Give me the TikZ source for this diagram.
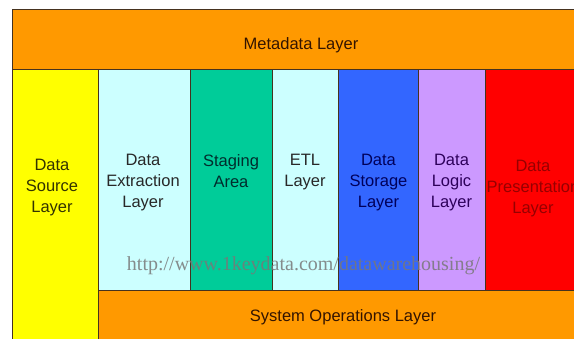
\documentclass[tikz,border=0pt]{standalone}
\usepackage{fontspec}
\setmainfont{Liberation Sans}
\newfontfamily\urlfont{Liberation Serif}
\definecolor{orng}{RGB}{255,153,0}
\definecolor{ylw}{RGB}{255,255,0}
\definecolor{lcyan}{RGB}{204,255,255}
\definecolor{grn}{RGB}{0,204,153}
\definecolor{blu}{RGB}{51,102,255}
\definecolor{purp}{RGB}{204,153,255}
\definecolor{rd}{RGB}{255,0,0}
\definecolor{edge}{RGB}{70,50,30}
\definecolor{tbrown}{RGB}{51,20,0}
\definecolor{tolive}{RGB}{51,51,0}
\definecolor{tgray}{RGB}{40,40,40}
\definecolor{tteal}{RGB}{0,45,45}
\definecolor{tnavy}{RGB}{0,0,90}
\definecolor{tpurp}{RGB}{45,0,90}
\definecolor{tred}{RGB}{150,0,0}
\definecolor{urlgray}{RGB}{120,120,120}
\begin{document}
\begin{tikzpicture}[x=1pt,y=-1pt,
  box/.style={draw=edge, line width=0.8pt, inner sep=0pt, outer sep=0pt, anchor=north west},
  lbl/.style={font=\fontsize{16.5}{21}\selectfont, align=center, inner sep=0pt, anchor=north}]
\useasboundingbox (0,0) rectangle (574,339);
\clip (0,0) rectangle (574,339);
\fill[white] (0,0) rectangle (574,339);
% boxes
\node[box, fill=orng, minimum width=569pt, minimum height=59.5pt] (meta) at (12,9.5) {};
\node[box, fill=ylw, minimum width=86pt, minimum height=285pt] (src) at (12,69) {};
\node[box, fill=lcyan, minimum width=92pt, minimum height=221pt] (ext) at (98,69) {};
\node[box, fill=grn, minimum width=82pt, minimum height=221pt] (stg) at (190,69) {};
\node[box, fill=lcyan, minimum width=66pt, minimum height=221pt] (etl) at (272,69) {};
\node[box, fill=blu, minimum width=80pt, minimum height=221pt] (sto) at (338,69) {};
\node[box, fill=purp, minimum width=67pt, minimum height=221pt] (lgc) at (418,69) {};
\node[box, fill=rd, minimum width=96pt, minimum height=221pt] (pre) at (485,69) {};
\node[box, fill=orng, minimum width=483pt, minimum height=60pt] (sys) at (98,290) {};
% labels
\node[lbl, anchor=center, text=tbrown] (metaT) at (301,45) {Metadata Layer};
\node[lbl, anchor=center, text=tbrown] (sysT) at (343,317.5) {System Operations Layer};
\node[lbl, text=tolive] (srcT) at (52,159) {Data\\Source\\Layer};
\node[lbl, text=tgray] (extT) at (143,154) {Data\\Extraction\\Layer};
\node[lbl, text=tteal] (stgT) at (231,154) {Staging\\Area};
\node[lbl, text=tgray] (etlT) at (305,154) {ETL\\Layer};
\node[lbl, text=tnavy] (stoT) at (378.5,154) {Data\\Storage\\Layer};
\node[lbl, text=tpurp] (lgcT) at (451.5,154) {Data\\Logic\\Layer};
\node[lbl, text=tred] (preT) at (533,160) {Data\\Presentation\\Layer};
% watermark url
\node[font=\urlfont\fontsize{20}{20}\selectfont, text=urlgray, text opacity=0.85, inner sep=0pt, anchor=base] (url) at (303.5,271) {http://www.1keydata.com/datawarehousing/};
\end{tikzpicture}
\end{document}
